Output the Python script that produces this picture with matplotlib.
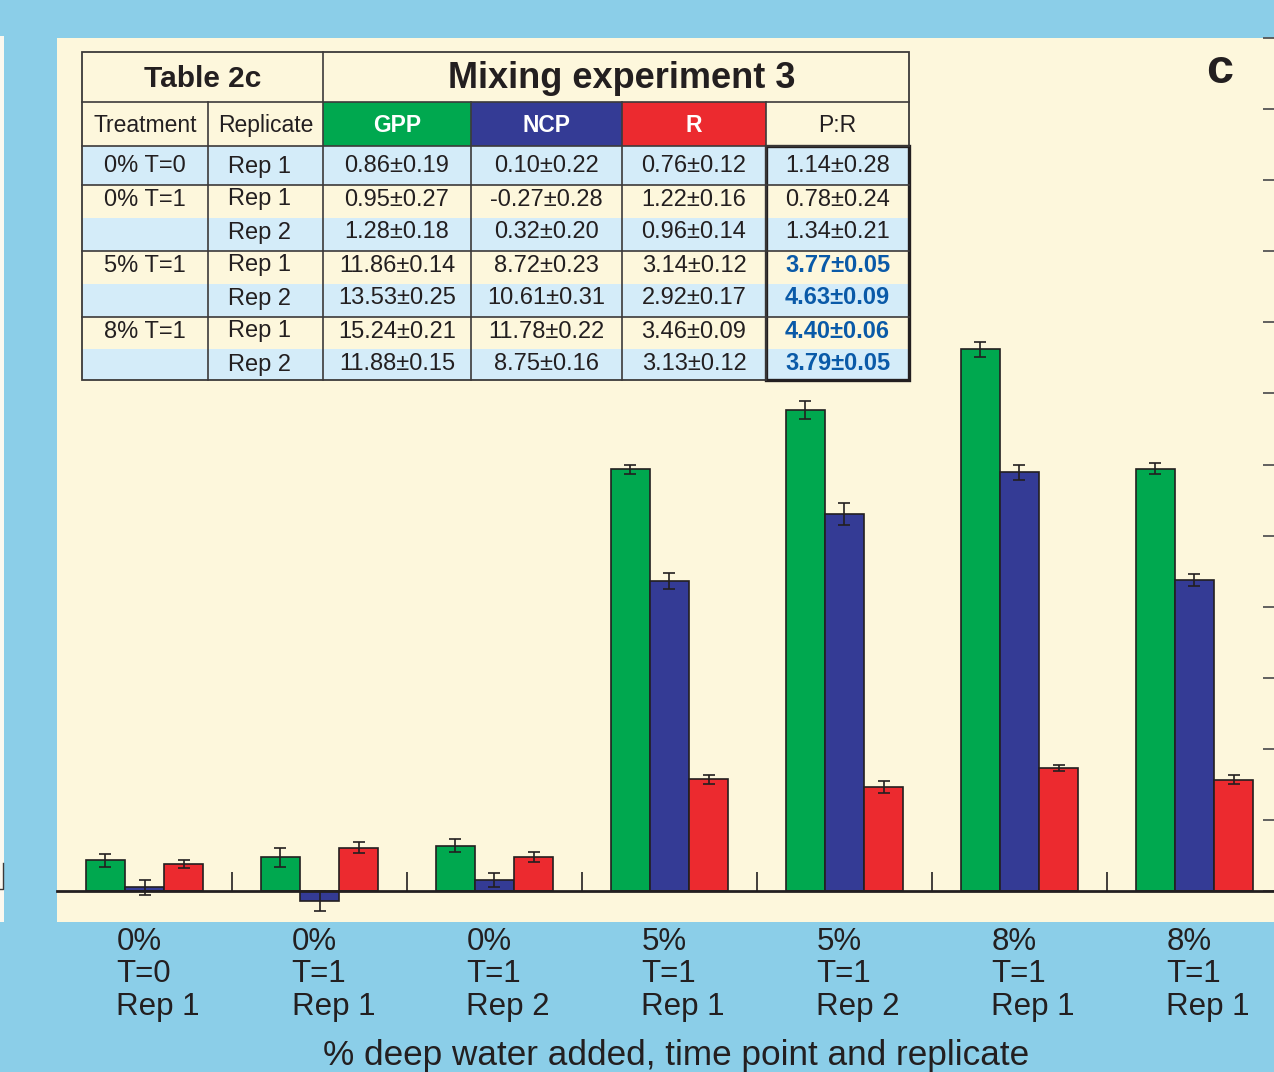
import numpy as np
import matplotlib.pyplot as plt
from matplotlib.patches import Rectangle
from matplotlib import transforms

plt.rcParams['font.family'] = ['Liberation Sans', 'DejaVu Sans']

# Mixing experiment 3: rates per treatment / replicate
treatment = ["0% T=0", "0% T=1", "", "5% T=1", "", "8% T=1", ""]
replicate = ["Rep 1", "Rep 1", "Rep 2", "Rep 1", "Rep 2", "Rep 1", "Rep 2"]
gpp = [0.86, 0.95, 1.28, 11.86, 13.53, 15.24, 11.88]
gpp_err = [0.19, 0.27, 0.18, 0.14, 0.25, 0.21, 0.15]
ncp = [0.10, -0.27, 0.32, 8.72, 10.61, 11.78, 8.75]
ncp_err = [0.22, 0.28, 0.20, 0.23, 0.31, 0.22, 0.16]
resp = [0.76, 1.22, 0.96, 3.14, 2.92, 3.46, 3.13]
resp_err = [0.12, 0.16, 0.14, 0.12, 0.17, 0.09, 0.12]
pr = [1.14, 0.78, 1.34, 3.77, 4.63, 4.40, 3.79]
pr_err = [0.28, 0.24, 0.21, 0.05, 0.09, 0.06, 0.05]
group_labels = ["0%\nT=0\nRep 1", "0%\nT=1\nRep 1", "0%\nT=1\nRep 2",
                "5%\nT=1\nRep 1", "5%\nT=1\nRep 2", "8%\nT=1\nRep 1",
                "8%\nT=1\nRep 1"]

bg = '#8bcee8'
cream = '#fdf7dc'
lightblue = '#d4ecf9'
green = '#00a84f'
blue = '#343b95'
red = '#ec2a2f'
dark = '#231f20'
line = '#3c3a3a'
prblue = '#0a5aa8'

W, H = 1274, 1072
fig = plt.figure(figsize=(W / 100, H / 100), dpi=100)
fig.patch.set_facecolor(bg)

ax = fig.add_axes([57 / W, 1 - 922 / H, 1 - 57 / W, (922 - 38) / H])
ax.set_facecolor(cream)

x = np.arange(len(gpp))
bw = 0.223
for off, vals, errs, col in [(-bw, gpp, gpp_err, green),
                             (0, ncp, ncp_err, blue),
                             (bw, resp, resp_err, red)]:
    ax.bar(x + off, vals, bw, color=col, edgecolor=dark, linewidth=1.2, zorder=2)
    ax.errorbar(x + off, vals, yerr=errs, fmt='none', ecolor=dark,
                elinewidth=1.2, capsize=4.3, capthick=1.2, zorder=3)

ax.set_xlim(-0.5, -0.5 + (W - 57) / 175)
ax.set_ylim(-0.872, 24)

for s in ['top', 'left', 'right']:
    ax.spines[s].set_visible(False)
ax.spines['bottom'].set_position(('data', 0))
ax.spines['bottom'].set_linewidth(2)
ax.spines['bottom'].set_color(dark)
ax.spines['bottom'].set_zorder(4)

ax.set_xticks(x[:-1] + 0.5)
ax.set_xticklabels([])
ax.tick_params(axis='x', direction='in', length=14, width=1.2, color=dark)
ax.yaxis.tick_right()
ax.set_yticks(np.arange(0, 25, 2))
ax.set_yticklabels([])
ax.tick_params(axis='y', direction='in', length=8, width=1.3, color='#555555')

# group labels under the axis
trans = transforms.blended_transform_factory(ax.transData, fig.transFigure)
for i, lab in enumerate(group_labels):
    ax.text(i - 0.16, 1 - 927 / H, lab, transform=trans, ha='left', va='top',
            fontsize=22.5, color=dark, linespacing=1.1, clip_on=False)
fig.text(676 / W, 1 - 1065 / H, "% deep water added, time point and replicate",
         ha='center', va='baseline', fontsize=25.3, color=dark)
fig.text(1220 / W, 1 - 83 / H, "c", ha='center', va='baseline',
         fontsize=35, fontweight='bold', color=dark)

# overlay in pixel units for the table and the panel edge on the left
tab = fig.add_axes([0, 0, 1, 1], zorder=5)
tab.set_xlim(0, W)
tab.set_ylim(H, 0)
tab.axis('off')
tab.patch.set_alpha(0)

tab.add_patch(Rectangle((0, 36), 4, 886, color='#fbf8ef', lw=0))
tab.plot([3, 3, 0], [863, 889, 889], color=line, lw=1)

cols = [82, 208, 323, 471, 622, 766, 909]
rows = [146, 185, 218, 251, 284, 317, 349, 380]
t_top, t_mid = 52, 102

tab.add_patch(Rectangle((cols[0], t_top), cols[-1] - cols[0], rows[-1] - t_top,
                        facecolor=cream, lw=0))
for r in range(0, 7, 2):
    tab.add_patch(Rectangle((cols[0], rows[r]), cols[-1] - cols[0],
                            rows[r + 1] - rows[r], facecolor=lightblue, lw=0))
for j, col in zip(range(2, 5), [green, blue, red]):
    tab.add_patch(Rectangle((cols[j], t_mid), cols[j + 1] - cols[j],
                            rows[0] - t_mid, facecolor=col, lw=0))

# grid lines
for yy in [t_mid, rows[0], rows[1], rows[3], rows[5]]:
    tab.plot([cols[0], cols[-1]], [yy, yy], color=line, lw=1.2)
for j, xx in enumerate(cols[1:-1], start=1):
    y0 = t_top if j == 2 else t_mid
    tab.plot([xx, xx], [y0, rows[-1]], color=line, lw=1.2)
tab.add_patch(Rectangle((cols[0], t_top), cols[-1] - cols[0], rows[-1] - t_top,
                        fill=False, edgecolor=line, lw=1.3))
tab.add_patch(Rectangle((cols[5], rows[0]), cols[6] - cols[5], rows[-1] - rows[0],
                        fill=False, edgecolor=dark, lw=2.4))

# titles and headers
tab.text((cols[0] + cols[2]) / 2, 87, "Table 2c", ha='center', va='baseline',
         fontsize=21.5, fontweight='bold', color=dark)
tab.text((cols[2] + cols[6]) / 2 + 6, 88, "Mixing experiment 3", ha='center',
         va='baseline', fontsize=26, fontweight='bold', color=dark)
headers = ["Treatment", "Replicate", "GPP", "NCP", "R", "P:R"]
for j, h in enumerate(headers):
    bold = j in (2, 3, 4)
    tab.text((cols[j] + cols[j + 1]) / 2, 132, h, ha='center', va='baseline',
             fontsize=16.5, fontweight='bold' if bold else 'normal',
             color='white' if bold else dark)

for i in range(len(gpp)):
    yb = 172.5 + 33 * i
    cells = [treatment[i], replicate[i],
             f"{gpp[i]:.2f}±{gpp_err[i]:.2f}",
             f"{ncp[i]:.2f}±{ncp_err[i]:.2f}",
             f"{resp[i]:.2f}±{resp_err[i]:.2f}",
             f"{pr[i]:.2f}±{pr_err[i]:.2f}"]
    for j, c in enumerate(cells):
        xc = (cols[j] + cols[j + 1]) / 2
        if j == 1:
            xc -= 6
        if j == 5 and i >= 3:
            tab.text(xc, yb, c, ha='center', va='baseline', fontsize=17,
                     fontweight='bold', color=prblue)
        else:
            tab.text(xc, yb, c, ha='center', va='baseline', fontsize=17,
                     color=dark)

fig.savefig("out.png", dpi=100, facecolor=fig.get_facecolor())
